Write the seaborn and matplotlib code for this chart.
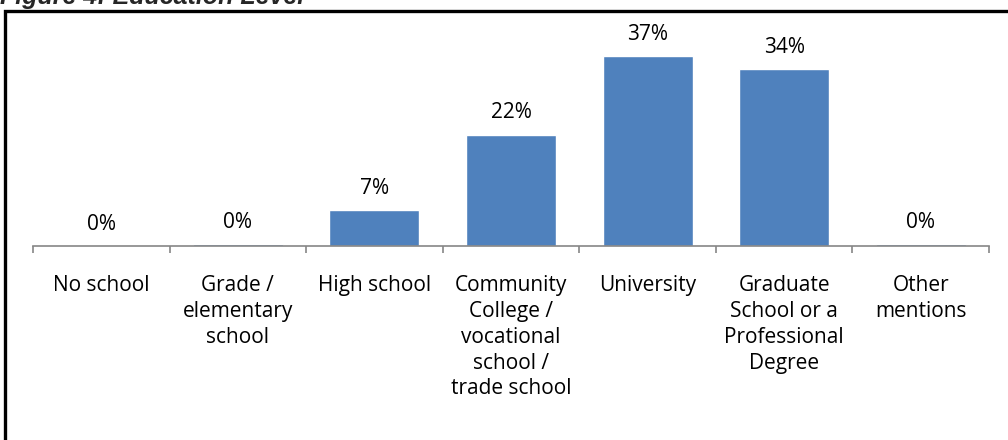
import pandas as pd
import seaborn as sns
import matplotlib.pyplot as plt
from matplotlib.patches import Rectangle

# Data
categories = ['No school', 'Grade /\nelementary\nschool', 'High school',
              'Community\nCollege /\nvocational\nschool /\ntrade school',
              'University', 'Graduate\nSchool or a\nProfessional\nDegree',
              'Other\nmentions']
percents = [0.0, 0.3, 7.0, 21.7, 37.0, 34.4, 0.3]
value_labels = ['0%', '0%', '7%', '22%', '37%', '34%', '0%']

df = pd.DataFrame({'level': categories, 'pct': percents})

sns.set_style('white')
plt.rcParams['font.family'] = ['Open Sans', 'DejaVu Sans']

fig = plt.figure(figsize=(10.08, 4.4), dpi=100)
ax = fig.add_axes([33 / 1008, (440 - 246) / 440, (989 - 33) / 1008, 226 / 440])

sns.barplot(data=df, x='level', y='pct', color='#4F81BD', width=0.66,
            saturation=1, ax=ax)

ax.set_xlim(-0.5, len(categories) - 0.5)
ax.set_ylim(0, 44)

# value labels above bars
for i, (v, lab) in enumerate(zip(percents, value_labels)):
    ax.annotate(lab, (i, v), xytext=(0, 8), textcoords='offset points',
                ha='center', va='bottom', fontsize=15, color='black')

# axes styling
for s in ['top', 'right', 'left']:
    ax.spines[s].set_visible(False)
ax.spines['bottom'].set_color('#868686')
ax.spines['bottom'].set_linewidth(1.2)
ax.set_yticks([])
ax.set_xlabel('')
ax.set_ylabel('')
ax.tick_params(axis='x', which='major', length=0, pad=21, labelsize=15,
               labelcolor='black')
ax.set_xticks([i - 0.5 for i in range(len(categories) + 1)], minor=True)
ax.tick_params(axis='x', which='minor', length=5, width=1.2, color='#868686',
               direction='out', bottom=True)
for t in ax.get_xticklabels():
    t.set_linespacing(1.3)
    t.set_va('top')

# frame around figure and clipped caption
fig.patches.append(Rectangle((4.5 / 1008, -0.1), 1.2, 1 - 11.5 / 440 + 0.1,
                             transform=fig.transFigure, fill=False,
                             edgecolor='black', linewidth=2.4))
fig.text(0.0, 1 - 4 / 440, 'Figure 4: Education Level', ha='left',
         va='baseline', fontsize=18, fontweight='bold', fontstyle='italic',
         family='Liberation Sans')

fig.savefig('out.png', dpi=100)
